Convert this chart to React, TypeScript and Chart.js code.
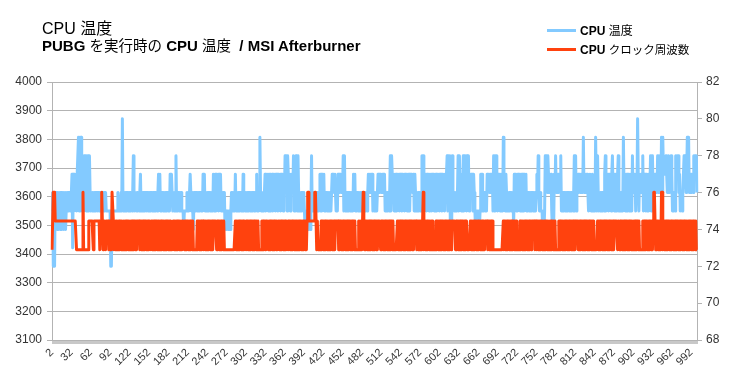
import React, { useEffect, useRef } from "react";
import { Chart, registerables } from "chart.js";

Chart.register(...registerables);

// CPU temperature, one digit per sample: the last digit of the °C value ("0" = 80 °C)
const TEMP_CODE = [
  "5622265646 4564645645 6456565656 6737576757 7959598585",
  "8685868586 5656565656 6565656566 5656555555 5225555555",
  "5565555650 5656565656 5656568656 6565656756 5656566565",
  "6565656565 6565676756 5656565656 5657676565 6585656565",
  "6555455556 5656775654 6565656565 6565767565 6565656565",
  "7567576757 6756565644 5454544565 6565756565 6565657565",
  "6565656565 6565656756 5696565656 7576757675 6757675767",
  "5767576757 6878587675 7676857587 5865656565 6545454545",
  "4585656565 6565675757 6756565656 5656767676 5657676767",
  "6858565656 5656565767 5656565656 5656565656 7676767565",
  "6565676767 6767675656 5656858767 5767576757 6757675767",
  "5767576767 7576565656 5658585767 5767576757 6757675767",
  "5767576757 6785878454 8565656568 5867576858 7858785767",
  "6757654545 4545767565 6565767676 7675858687 5767576759",
  "6757656565 6565647575 7576757675 7576756565 6565656565",
  "6768656555 4545868687 6767545476 8676767685 6565656565",
  "6565656568 5857676767 6769676767 6567656765 6596586565",
  "6565657857 6757675786 7575757855 5656596757 5757575758",
  "6767576075 7676785767 5757576858 8676767686 8686969777",
  "7876787678 7565658787 8675565678 7867979676 7676878786",
];

// CPU clock, one digit per sample: index into CLOCK_LEVELS (MHz)
const CLOCK_LEVELS = [3415, 3515, 3615];
const CLOCK_CODE = [
  "0022211111 1111111111 1111111111 1111111100 0000000020",
  "0000000111 1111011111 1111011210 1110111101 0102210101",
  "1010101010 0101010101 0010101010 1011110101 0101010101",
  "0100101010 1010110101 0101010101 0101000010 1010101010",
  "0111101010 1010101010 0000010101 0101101010 1010101010",
  "1111101010 1010101000 0000000000 0000101010 1010101010",
  "0101010101 0101010101 0000010101 0111101010 1010101010",
  "0101010101 0101001010 1010101010 0101010101 0101012211",
  "1111111221 0100000101 0101010101 0101010101 1111010101",
  "0101010101 0101010101 0000010101 0121010101 0101010101",
  "0101011110 1010101010 1010101010 0000010101 0101010101",
  "0101010101 0111101010 1010120101 0101010101 0000010101",
  "0101010101 0101010101 1111101010 1010101010 1010000010",
  "1010101010 1010101010 0111101010 1010000000 0000000001",
  "0101010101 0101010101 0000010101 0101010101 0101111101",
  "1010101010 1010101010 0101010101 0000010101 0101010101",
  "0101010101 0111101010 1010101010 1010101010 0000010101",
  "0101010101 0101010101 0111110110 1010101010 1010101010",
  "0101010101 0000010101 0101010101 0122101010 1010220101",
  "0101010101 0101010101 0101010101 0101010101 0101010100",
];

const TEMP = TEMP_CODE.join("").replace(/\s/g, "").split("").map((c) => (c === "0" ? 80 : 70 + Number(c)));
const CLOCK = CLOCK_CODE.join("").replace(/\s/g, "").split("").map((c) => CLOCK_LEVELS[Number(c)]);

const FIRST_CATEGORY = 2;
const LABEL_EVERY = 30;
const LABELS = TEMP.map((_, i) => String(i + FIRST_CATEGORY));

const CLOCK_MIN = 3100;
const CLOCK_MAX = 4000;
const CLOCK_STEP = 100;
const TEMP_MIN = 68;
const TEMP_MAX = 82;
const TEMP_STEP = 2;

const SERIES_NAMES = ["CPU 温度", "CPU クロック周波数"];
const BLUE = "#83CAFF";
const RED = "#FF420E";
const GRID = "#b3b3b3";
const TXT = "#333333";
const LATIN = "'Liberation Sans', Arial, sans-serif";
const CJK = "'Noto Sans CJK JP', sans-serif";

function App() {
  const ref = useRef<HTMLCanvasElement | null>(null);

  useEffect(() => {
    if (!ref.current) return;
    const chart = new Chart(ref.current, {
      type: "line",
      data: {
        labels: LABELS,
        datasets: [
          {
            label: SERIES_NAMES[0],
            data: TEMP,
            yAxisID: "yT",
            borderColor: BLUE,
            backgroundColor: BLUE,
            borderWidth: 3,
            borderJoinStyle: "round",
            pointRadius: 0,
            tension: 0,
            order: 2,
          },
          {
            label: SERIES_NAMES[1],
            data: CLOCK,
            yAxisID: "yC",
            borderColor: RED,
            backgroundColor: RED,
            borderWidth: 3,
            borderJoinStyle: "round",
            pointRadius: 0,
            tension: 0,
            order: 1,
          },
        ],
      },
      options: {
        animation: false,
        responsive: false,
        maintainAspectRatio: false,
        events: [],
        layout: { padding: { top: 82, left: 0, right: 0, bottom: 0 } },
        plugins: {
          legend: { display: false },
          title: { display: false },
          tooltip: { enabled: false },
        },
        scales: {
          x: {
            type: "category",
            offset: false,
            grid: { drawOnChartArea: false, drawTicks: true, tickLength: 4, color: "#c8c8c8" },
            border: { display: true, color: GRID },
            ticks: {
              autoSkip: false,
              minRotation: 45,
              maxRotation: 45,
              padding: 2,
              color: TXT,
              font: { family: LATIN, size: 11 },
              callback: (_v: any, i: number) => (i % LABEL_EVERY === 0 ? LABELS[i] : ""),
            },
            afterFit: (s: any) => {
              s.height = 48;
            },
          },
          yC: {
            type: "linear",
            position: "left",
            min: CLOCK_MIN,
            max: CLOCK_MAX,
            grid: { color: GRID, tickLength: 5, drawTicks: true },
            border: { display: true, color: GRID },
            ticks: {
              stepSize: CLOCK_STEP,
              padding: 5,
              color: TXT,
              font: { family: LATIN, size: 12 },
              callback: (v: any) => String(v),
            },
            afterFit: (s: any) => {
              s.width = 52;
            },
          },
          yT: {
            type: "linear",
            position: "right",
            min: TEMP_MIN,
            max: TEMP_MAX,
            grid: { drawOnChartArea: false, color: GRID, tickLength: 5, drawTicks: true },
            border: { display: true, color: GRID },
            ticks: {
              stepSize: TEMP_STEP,
              padding: 4,
              color: TXT,
              font: { family: LATIN, size: 12 },
              callback: (v: any) => String(v),
            },
            afterFit: (s: any) => {
              s.width = 38;
            },
          },
        },
      },
    });
    return () => chart.destroy();
  }, []);

  const lat = (t: string, bold: boolean, size: number) => (
    <span style={{ fontFamily: LATIN, fontWeight: bold ? 700 : 400, fontSize: size }}>{t}</span>
  );
  const cjk = (t: string, size: number) => (
    <span style={{ fontFamily: CJK, fontWeight: 400, fontSize: size }}>{t}</span>
  );

  return (
    <div
      style={{
        position: "absolute",
        left: 0,
        top: 0,
        width: 735,
        height: 388,
        background: "#ffffff",
        overflow: "hidden",
      }}
    >
      <canvas ref={ref} width={735} height={388} style={{ display: "block", width: 735, height: 388 }} />
      <div style={{ position: "absolute", left: 42, top: 18, lineHeight: "18px", whiteSpace: "pre", color: "#000" }}>
        {lat("CPU ", false, 16)}
        {cjk("温度", 16)}
      </div>
      <div style={{ position: "absolute", left: 42, top: 36, lineHeight: "18px", whiteSpace: "pre", color: "#000" }}>
        {lat("PUBG ", true, 15)}
        {cjk("を実行時の", 14.5)}
        {lat(" CPU ", true, 15)}
        {cjk("温度", 14.5)}
        {lat("  / MSI Afterburner", true, 15)}
      </div>
      <div style={{ position: "absolute", left: 547, top: 29, width: 29, height: 3, background: BLUE }} />
      <div style={{ position: "absolute", left: 547, top: 48, width: 29, height: 3, background: RED }} />
      <div style={{ position: "absolute", left: 580, top: 22, lineHeight: "16px", whiteSpace: "pre", color: "#000" }}>
        {lat("CPU ", true, 12)}
        {cjk("温度", 12)}
      </div>
      <div style={{ position: "absolute", left: 580, top: 41, lineHeight: "16px", whiteSpace: "pre", color: "#000" }}>
        {lat("CPU ", true, 12)}
        {cjk("クロック周波数", 11.5)}
      </div>
    </div>
  );
}

export default App;
